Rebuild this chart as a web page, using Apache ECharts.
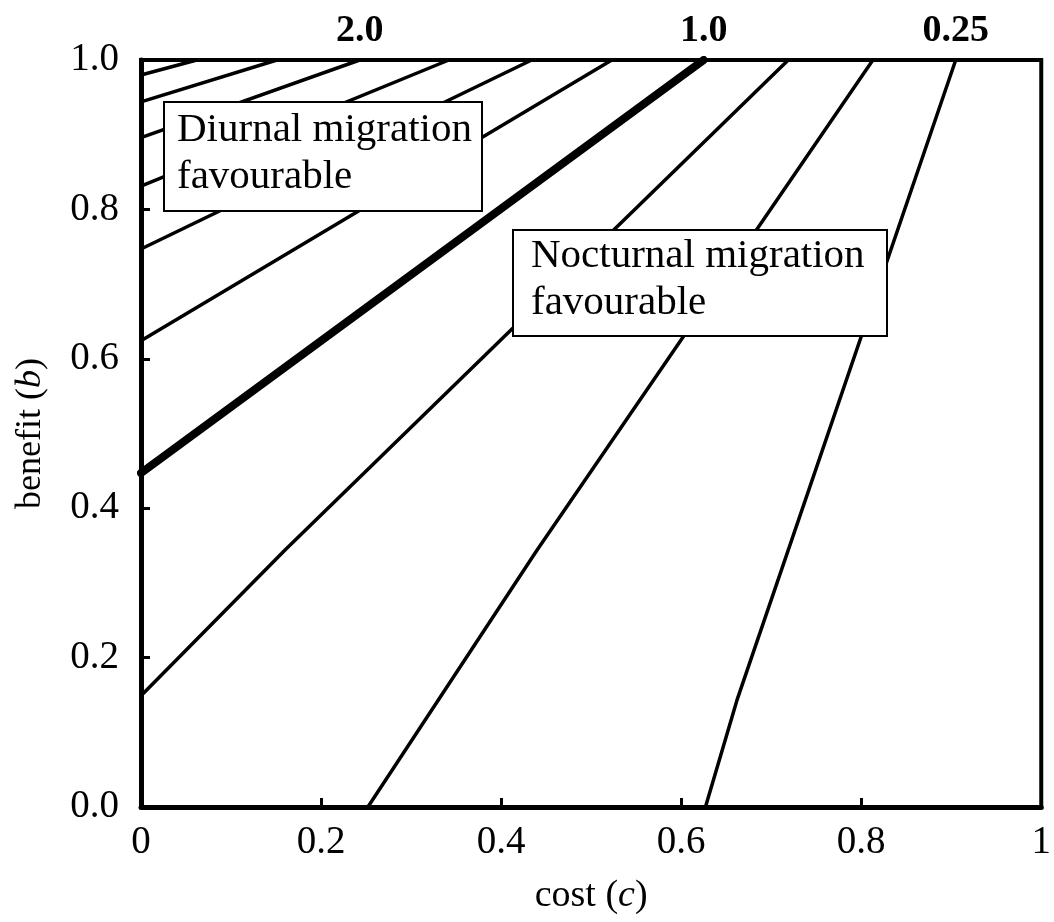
<!DOCTYPE html>
<html><head><meta charset="utf-8">
<script src="https://cdn.jsdelivr.net/npm/echarts@6/dist/echarts.min.js"></script>
<style>html,body{margin:0;padding:0;background:#fff}#c{width:1054px;height:922px}</style>
</head><body><div id="c"></div>
<script>
// contour lines: [cost, benefit] points
const line1 = [[0, 0.980], [0.062, 1]];
const line2 = [[0, 0.944], [0.151, 1]];
const line3 = [[0, 0.896], [0.243, 1]];
const line4 = [[0, 0.831], [0.342, 1]];
const line5 = [[0, 0.747], [0.434, 1]];
const line6 = [[0, 0.624], [0.523, 1]];
const lineThick = [[0, 0.447], [0.625, 1]];
const line8 = [[0, 0.149], [0.160, 0.344], [0.719, 1]];
const line9 = [[0.252, 0], [0.440, 0.344], [0.813, 1]];
const line10 = [[0.627, 0], [0.662, 0.143], [0.905, 1]];
const thinLines = [line1, line2, line3, line4, line5, line6, line8, line9, line10];
// labels at the top edge: [series, label]
const topLabels = [[line3, '2.0'], [lineThick, '1.0'], [line10, '0.25']];
const xTicks = [0, 0.2, 0.4, 0.6, 0.8, 1];
const yTicks = [0, 0.2, 0.4, 0.6, 0.8, 1];
const boxDiurnal = 'Diurnal migration\nfavourable';
const boxNocturnal = 'Nocturnal migration\nfavourable';

const FONT = 'Liberation Serif';
function mk(data, width) {
  const lab = topLabels.find(t => t[0] === data);
  const s = {
    type: 'line', data: data, symbol: 'none', silent: true,
    lineStyle: {color: '#000', width: width, cap: 'round'}, z: 2
  };
  if (lab) {
    const last = data[data.length - 1];
    s.markPoint = {
      symbol: 'circle', symbolSize: 0, silent: true,
      data: [{coord: last}],
      label: {show: true, position: 'top', distance: 10, formatter: lab[1],
        color: '#000', fontFamily: FONT, fontWeight: 'bold', fontSize: 38}
    };
  }
  return s;
}
const series = thinLines.map(d => mk(d, 3.5));
series.push(mk(lineThick, 8));

const chart = echarts.init(document.getElementById('c'));
chart.setOption({
  animation: false,
  backgroundColor: '#fff',
  grid: {left: 141, right: 10, top: 60, bottom: 115, show: true, borderColor: '#000', borderWidth: 4},
  xAxis: {
    type: 'value', min: xTicks[0], max: xTicks[xTicks.length - 1], interval: 0.2,
    name: 'cost ({i|c})', nameLocation: 'middle', nameGap: 70,
    nameTextStyle: {color: '#000', fontFamily: FONT, fontSize: 38, rich: {i: {fontStyle: 'italic', fontFamily: FONT, fontSize: 38, color: '#000'}}},
    axisLine: {lineStyle: {color: '#000', width: 5}},
    axisTick: {inside: true, length: 9, lineStyle: {color: '#000', width: 3}},
    axisLabel: {color: '#000', fontFamily: FONT, fontSize: 39, margin: 16},
    splitLine: {show: false}
  },
  yAxis: {
    type: 'value', min: yTicks[0], max: yTicks[yTicks.length - 1], interval: 0.2,
    name: 'benefit ({i|b})', nameLocation: 'middle', nameGap: 92,
    nameTextStyle: {color: '#000', fontFamily: FONT, fontSize: 36, rich: {i: {fontStyle: 'italic', fontFamily: FONT, fontSize: 36, color: '#000'}}},
    axisLine: {lineStyle: {color: '#000', width: 5}},
    axisTick: {inside: true, length: 9, lineStyle: {color: '#000', width: 3}},
    axisLabel: {color: '#000', fontFamily: FONT, fontSize: 39, margin: 22, formatter: v => v.toFixed(1)},
    splitLine: {show: false}
  },
  series: series,
  graphic: [
    {type: 'rect', z: 100, shape: {x: 164, y: 102, width: 318, height: 109},
     style: {fill: '#fff', stroke: '#000', lineWidth: 2}},
    {type: 'text', z: 101, x: 177, y: 107,
     style: {text: boxDiurnal, font: '41px "Liberation Serif"', fill: '#000', lineHeight: 47, verticalAlign: 'top'}},
    {type: 'rect', z: 100, shape: {x: 513, y: 230, width: 374, height: 106},
     style: {fill: '#fff', stroke: '#000', lineWidth: 2}},
    {type: 'text', z: 101, x: 531, y: 233,
     style: {text: boxNocturnal, font: '41px "Liberation Serif"', fill: '#000', lineHeight: 47, verticalAlign: 'top'}}
  ]
});
</script></body></html>
